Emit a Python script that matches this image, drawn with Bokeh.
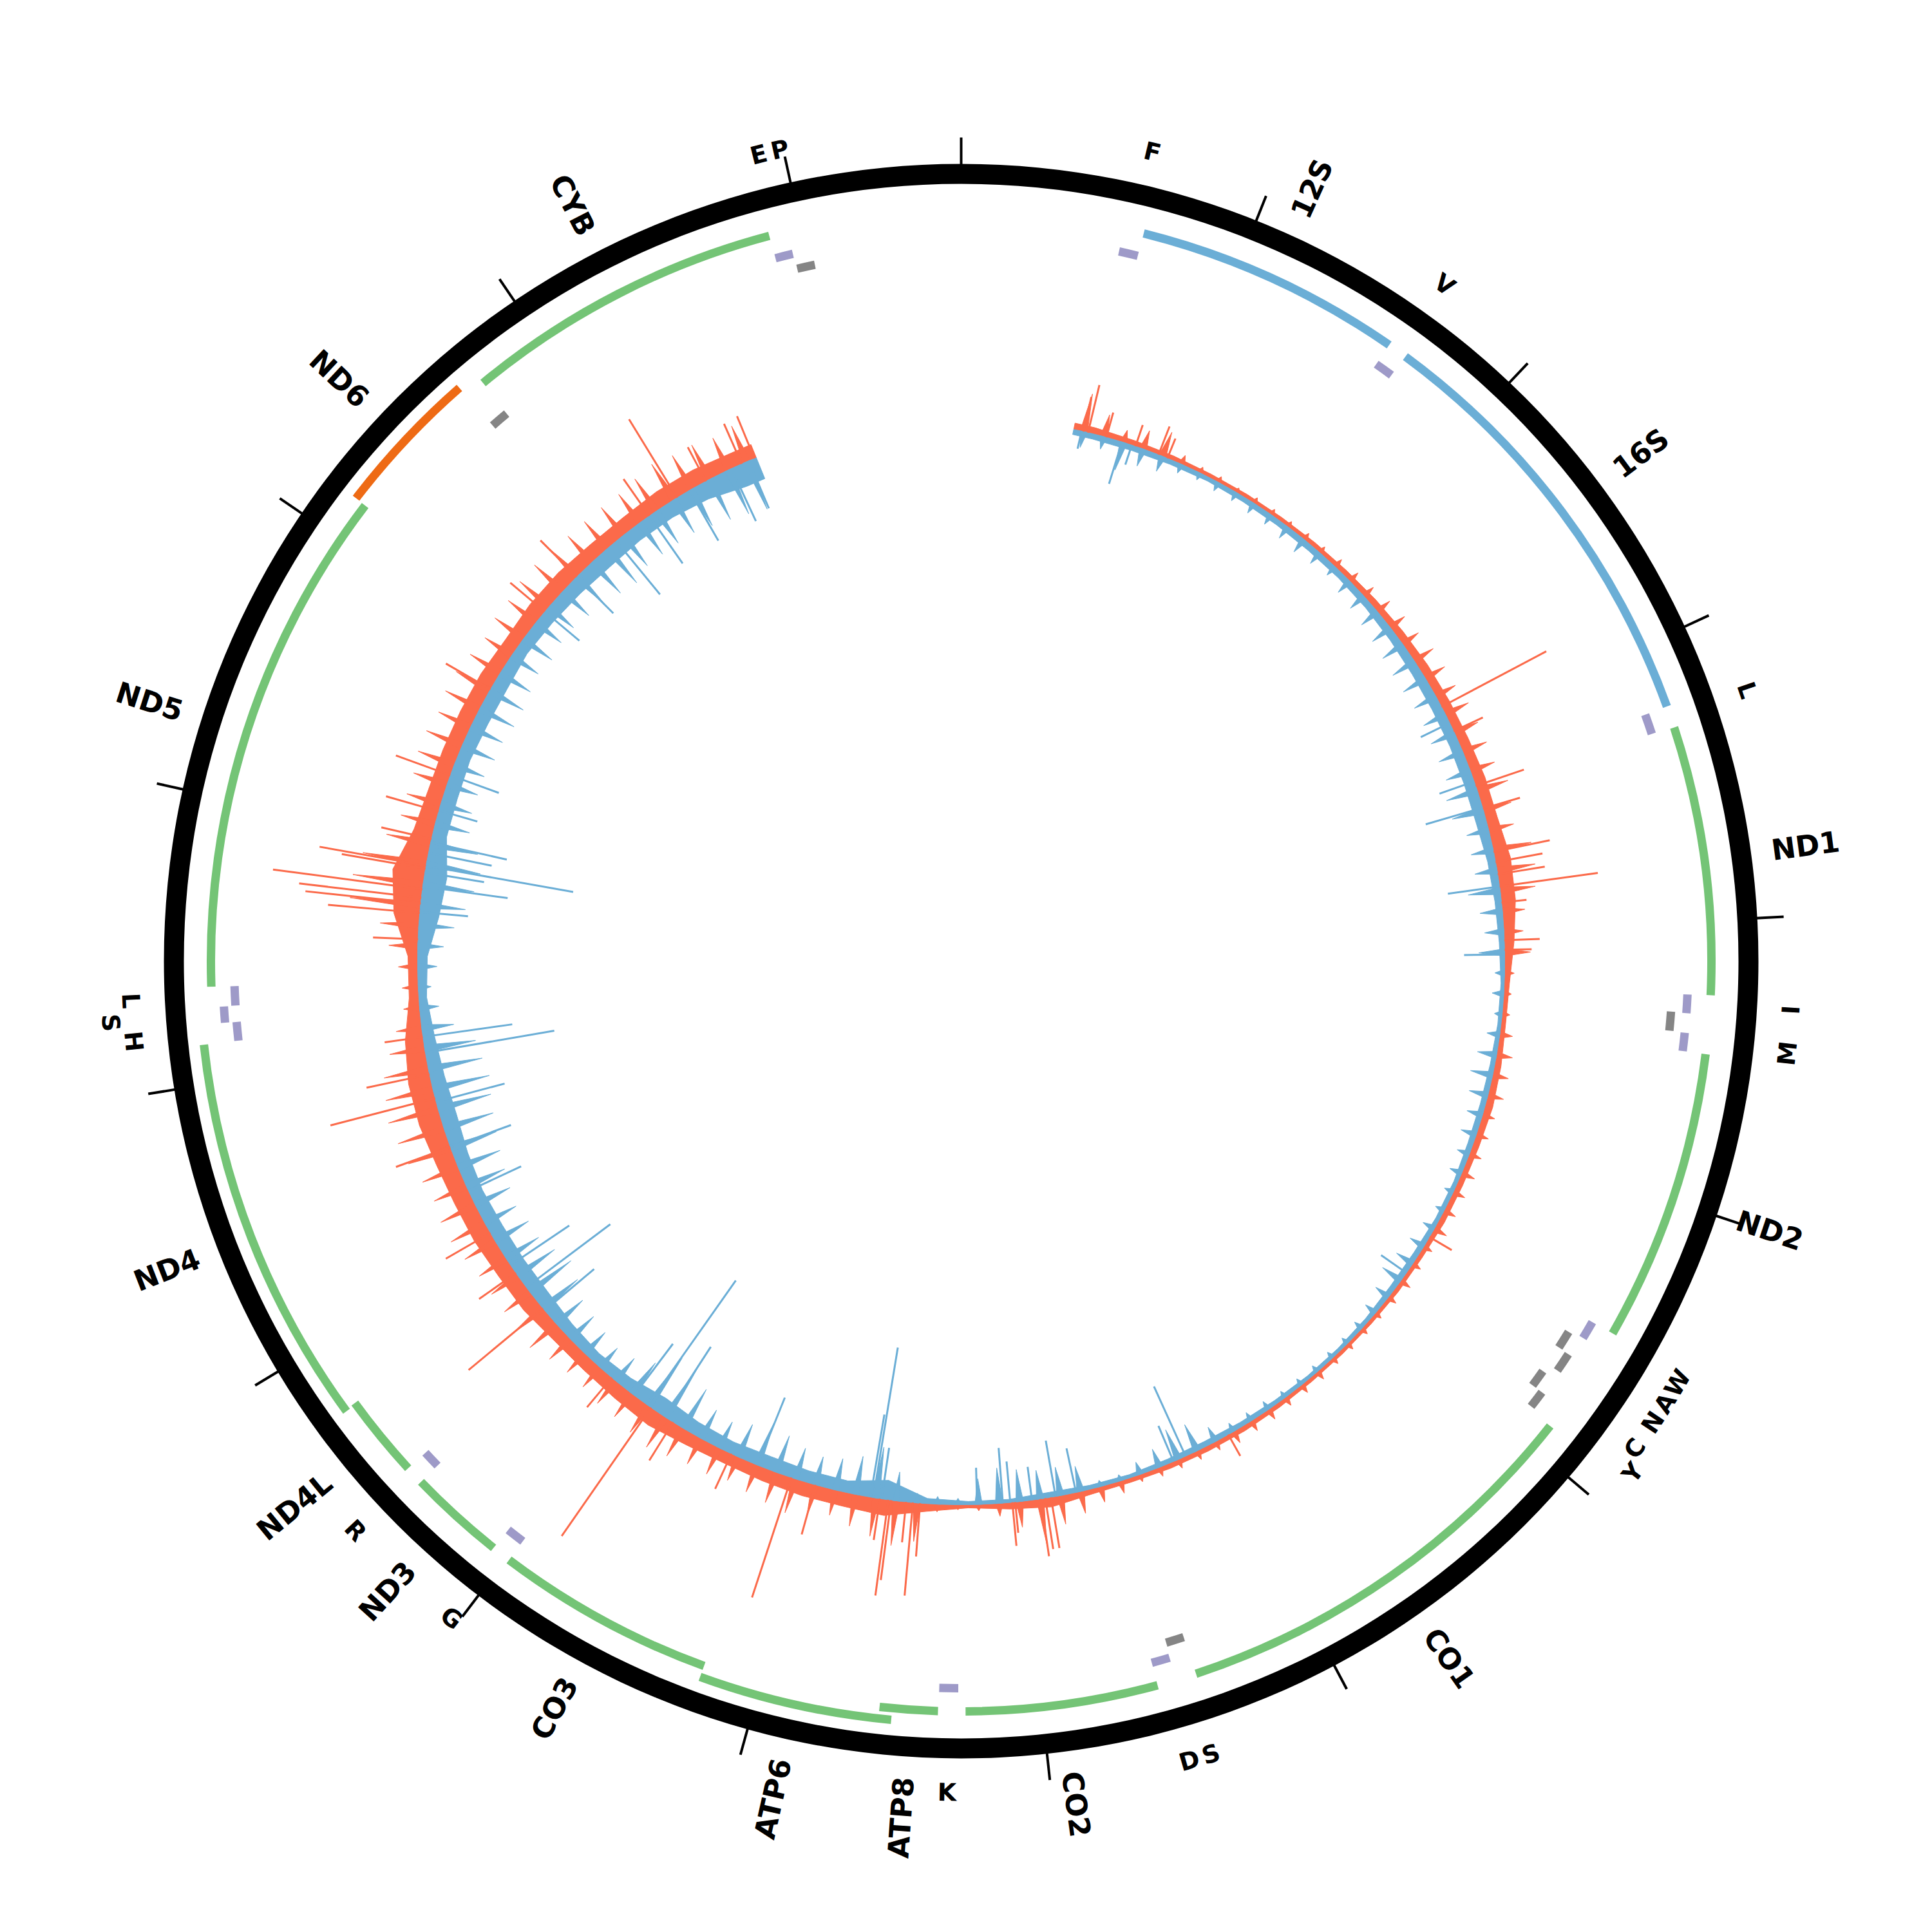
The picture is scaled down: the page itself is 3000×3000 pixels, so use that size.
import numpy as np
from bokeh.plotting import figure
from bokeh.embed import file_html
from bokeh.resources import INLINE
from bokeh.core.properties import value

GENOME_LEN = 16569
TICK_STEP = 1000

# ---------------- genes ----------------
gene_names  = ["F","12S","V","16S","L1","ND1","I","Q","M","ND2","W","A","N","C","Y","CO1","S1","D","CO2","K",
               "ATP8","ATP6","CO3","G","ND3","R","ND4L","ND4","H","S2","L2","ND5","ND6","E","CYB","T","P"]
gene_starts = [577,648,1602,1671,3230,3307,4263,4329,4402,4470,5512,5587,5657,5761,5826,5904,7446,7518,7586,8295,
               8366,8527,9207,9991,10059,10405,10470,10760,12138,12207,12266,12337,14149,14674,14747,15888,15956]
gene_ends   = [647,1601,1670,3229,3304,4262,4331,4400,4469,5511,5579,5655,5729,5826,5891,7445,7514,7585,8269,8364,
               8572,9207,9990,10058,10404,10469,10766,12137,12206,12265,12336,14148,14673,14742,15887,15953,16023]
gene_strand = ["+","+","+","+","+","+","+","-","+","+","+","-","-","-","-","+","-","+","+","+",
               "+","+","+","+","+","+","+","+","+","+","+","+","-","-","+","+","-"]
gene_kind   = ["tRNA","rRNA","tRNA","rRNA","tRNA","CDS","tRNA","tRNA","tRNA","CDS","tRNA","tRNA","tRNA","tRNA","tRNA","CDS","tRNA","tRNA","CDS","tRNA",
               "CDS","CDS","CDS","tRNA","CDS","tRNA","CDS","CDS","tRNA","tRNA","tRNA","CDS","CDS","tRNA","CDS","tRNA","tRNA"]

# ---------------- labels ----------------
label_text  = ["F","12S","V","16S","L","ND1","I","M","ND2","W","A","N","C","Y","CO1","S","D","CO2","K","ATP8",
               "ATP6","CO3","G","ND3","R","ND4L","ND4","H","S","L","ND5","ND6","CYB","E","P"]
label_gene  = ["F","12S","V","16S","L1","ND1","I","M","ND2","W","A","N","C","Y","CO1","S1","D","CO2","K","ATP8",
               "ATP6","CO3","G","ND3","R","ND4L","ND4","H","S2","L2","ND5","ND6","CYB","T","P"]
label_shift = [0,0,0,0,0,0,0,0,0,0,0,0,0,20,0,0,0,0,0,0,
               0,0,0,0,0,0,0,0,33,0,0,0,0,0,0]

# ---------------- coverage histogram ----------------
DATA_START = 550
DATA_END = 15550
CORE_W = 200      # typical (solid) depth per 200 bp
TIP_W = 100       # maximum depth per 100 bp

red_core = [10,8,7,6,6,6,7,8,10,12,14,15,16,18,18,24,22,15,8,7,
            10,12,10,9,9,7,7,6,6,6,7,8,8,8,7,8,15,10,5,12,
            25,22,22,20,18,20,25,22,20,20,25,25,28,28,30,35,35,28,15,15,
            40,50,30,25,25,25,25,22,25,25,22,22,25,25,22]
blue_core = [8,8,7,6,7,8,9,9,10,12,14,15,15,16,16,12,10,8,5,5,
             7,8,8,6,6,8,8,6,5,5,6,7,8,7,5,6,8,5,5,8,
             30,18,18,20,18,20,25,18,15,18,22,22,22,20,22,25,22,18,12,15,
             30,35,22,22,20,22,22,18,20,22,24,22,22,26,35]

red_tip = [60,35,20,30,40,15,10,10,8,10,10,10,12,12,15,18,20,25,28,30,
           35,35,35,40,40,40,40,50,45,40,60,60,55,35,30,40,15,12,12,20,
           25,25,25,20,20,20,22,20,20,22,15,15,18,15,12,12,12,12,15,15,
           15,18,18,20,15,15,15,15,12,20,25,35,45,70,40,20,10,8,12,60,
           70,60,50,40,50,55,50,45,40,45,45,50,55,50,45,45,40,40,45,55,
           60,50,50,50,55,60,60,55,60,70,75,80,75,70,55,40,25,25,30,45,
           60,110,110,100,70,55,55,55,60,60,55,60,60,55,50,55,55,60,60,60,
           55,55,55,55,60,65,60,60,55,60]
blue_tip = [25,20,45,28,25,15,12,15,15,18,18,22,25,22,18,25,28,32,35,38,
            40,40,38,38,40,40,40,50,50,35,35,35,50,35,30,40,15,18,12,20,
            30,35,30,25,25,20,20,15,15,20,25,30,35,25,20,15,12,12,12,12,
            12,15,15,15,25,45,50,30,20,10,10,40,45,45,50,55,40,10,12,15,
            45,80,60,50,45,50,60,70,55,45,50,70,90,90,60,45,40,45,50,55,
            70,80,70,60,60,55,60,65,70,75,80,85,90,85,80,50,30,20,30,40,
            55,70,80,85,75,55,50,50,50,55,55,60,60,55,50,55,50,50,55,60,
            65,70,60,60,60,60,65,70,75,80]

red_spike_pos = [598,621,713,861,980,1026,2858,2990,3277,3392,3608,3659,3719,3779,3857,4041,4087,
                 5546,6930,7847,7875,7898,8022,8036,8484,8519,8552,8625,8639,8680,9000,9122,9435,9757,9886,
                 10125,10600,10815,11046,11506,11755,11874,12058,12533,12661,12707,12735,12776,12878,12892,
                 13025,13163,13347,13808,14268,14498,14958,15119,15280,15473,15540]
red_spike_h   = [55,76,40,35,47,33,184,50,79,60,89,74,74,154,39,55,42,
                 40,38,80,80,90,48,68,83,145,63,125,150,65,80,196,60,70,243,
                 60,150,70,80,90,168,100,60,70,143,180,191,234,132,168,
                 80,85,90,80,70,80,70,143,60,68,71]

blue_spike_pos = [589,792,842,2946,3254,3387,3779,4110,5753,7162,7226,7723,7824,7940,8046,8082,8207,8672,8713,
                  8727,9297,9803,9905,9987,10586,10730,10862,11276,11506,11736,11980,12058,12666,12791,12860,
                  12892,12956,13007,13168,13347,14268,14498,14756,14958,15188,15418,15510]
blue_spike_h   = [28,68,32,50,57,92,81,63,48,119,60,70,88,52,64,86,57,80,236,
                  130,113,130,237,100,100,163,110,90,100,110,203,140,75,133,93,
                  232,100,121,62,80,70,80,107,90,90,90,80]

# ---------------- geometry / style ----------------
R_RING_IN, R_RING_OUT = 1207, 1238
R_TICK_OUT = 1279
R_GENE = 1165
R_TRNA_PLUS = 1129
R_TRNA_MINUS = 1105
TRACK_W = 13
STAGGER = 18
R_BASE = 844
R_LABEL = 1270
R_TLABEL = 1291
TOOTH_BP = 36

C_CDS, C_CDS_MINUS, C_RRNA = "#74c476", "#ee6a14", "#6baed6"
C_TRNA_PLUS, C_TRNA_MINUS = "#9e9ac8", "#858585"
C_RED, C_BLUE = "#fb6a4a", "#6baed6"


def theta(bp):
    return np.asarray(bp, dtype=float) / GENOME_LEN * 2 * np.pi


def math_ang(bp):
    return np.pi / 2 - theta(bp)


def xy(bp, r):
    a = math_ang(bp)
    return np.asarray(r) * np.cos(a), np.asarray(r) * np.sin(a)


p = figure(width=2980, height=2980, x_range=(-1492, 1488), y_range=(-1488, 1492),
           output_backend="svg", toolbar_location=None, min_border=0)
p.axis.visible = False
p.grid.visible = False
p.outline_line_color = None
p.background_fill_color = "white"

base_pos = np.linspace(DATA_END, DATA_START, 500)
core_centers = DATA_START + CORE_W * (np.arange(len(red_core)) + 0.5)
env_pos = np.concatenate([[DATA_START], core_centers, [DATA_END]])
tip_centers = DATA_START + TIP_W * (np.arange(len(red_tip)) + 0.5)

for core, tip, sign, col in ((red_core, red_tip, 1, C_RED), (blue_core, blue_tip, -1, C_BLUE)):
    # solid core envelope
    h = np.concatenate([[core[0]], core, [core[-1]]]).astype(float)
    ox, oy = xy(env_pos, R_BASE + sign * h)
    bx, by = xy(base_pos, np.full(len(base_pos), R_BASE))
    p.patch(np.concatenate([ox, bx]), np.concatenate([oy, by]), fill_color=col, line_color=col, line_width=1)
    # per-bin maximum depth as thin spikes
    xs, ys = [], []
    for c, t in zip(tip_centers, tip):
        lx, ly = xy([c - TOOTH_BP / 2, c, c + TOOTH_BP / 2], [R_BASE, R_BASE + sign * t, R_BASE])
        xs.append(list(lx))
        ys.append(list(ly))
    p.patches(xs, ys, fill_color=col, line_color=col, line_width=1)

# ---- coverage: isolated long spikes ----
for pos, hh, sign, col in ((red_spike_pos, red_spike_h, 1, C_RED), (blue_spike_pos, blue_spike_h, -1, C_BLUE)):
    pos = np.asarray(pos, float)
    hh = np.asarray(hh, float)
    x0, y0 = xy(pos, np.full(len(pos), R_BASE))
    x1, y1 = xy(pos, R_BASE + sign * hh)
    p.segment(x0, y0, x1, y1, line_color=col, line_width=3)

# ---- outer ring and ticks ----
p.annulus(x=0, y=0, inner_radius=R_RING_IN, outer_radius=R_RING_OUT, fill_color="black", line_color=None)
tick_pos = np.arange(0, GENOME_LEN, TICK_STEP)
tx0, ty0 = xy(tick_pos, np.full(len(tick_pos), R_RING_OUT - 2))
tx1, ty1 = xy(tick_pos, np.full(len(tick_pos), R_TICK_OUT))
p.segment(tx0, ty0, tx1, ty1, line_color="black", line_width=4)

# ---- gene tracks (greedy stagger per track) ----
def track_of(i):
    if gene_kind[i] in ("CDS", "rRNA"):
        return "gene"
    return "tplus" if gene_strand[i] == "+" else "tminus"

track_base = {"gene": R_GENE, "tplus": R_TRNA_PLUS, "tminus": R_TRNA_MINUS}
levels = [0] * len(gene_names)
last_end = {}
for i in sorted(range(len(gene_names)), key=lambda k: gene_starts[k]):
    t = track_of(i)
    ends = last_end.setdefault(t, [])
    lv = 0
    while lv < len(ends) and gene_starts[i] <= ends[lv] + 2:
        lv += 1
    if lv == len(ends):
        ends.append(gene_ends[i])
    else:
        ends[lv] = gene_ends[i]
    levels[i] = lv

for i, name in enumerate(gene_names):
    t = track_of(i)
    if gene_kind[i] == "rRNA":
        col = C_RRNA
    elif gene_kind[i] == "CDS":
        col = C_CDS if gene_strand[i] == "+" else C_CDS_MINUS
    else:
        col = C_TRNA_PLUS if gene_strand[i] == "+" else C_TRNA_MINUS
    rc = track_base[t] + STAGGER * levels[i]
    p.annular_wedge(x=0, y=0, inner_radius=rc - TRACK_W / 2, outer_radius=rc + TRACK_W / 2,
                    start_angle=float(math_ang(gene_ends[i])), end_angle=float(math_ang(gene_starts[i])),
                    fill_color=col, line_color=None)

# ---- labels ----
idx = {n: i for i, n in enumerate(gene_names)}
groups = {"rad_right": dict(x=[], y=[], t=[], a=[]), "rad_left": dict(x=[], y=[], t=[], a=[]),
          "tan": dict(x=[], y=[], t=[], a=[])}
for txt, g, sh in zip(label_text, label_gene, label_shift):
    i = idx[g]
    mid = (gene_starts[i] + gene_ends[i]) / 2.0
    th = float(np.degrees(theta(mid)))
    if gene_kind[i] in ("CDS", "rRNA"):
        x, y = xy(mid, R_LABEL)
        if th < 180:
            grp, a = "rad_right", 90 - th
        else:
            grp, a = "rad_left", 270 - th
    else:
        x, y = xy(mid, R_TLABEL + sh)
        grp = "tan"
        a = -th if np.cos(np.radians(th)) > 0 else 180 - th
    groups[grp]["x"].append(float(x))
    groups[grp]["y"].append(float(y))
    groups[grp]["t"].append(txt)
    groups[grp]["a"].append(np.radians(a))

for grp, align, size in (("rad_right", "left", "45px"), ("rad_left", "right", "45px"), ("tan", "center", "38px")):
    d = groups[grp]
    p.text(x=d["x"], y=d["y"], text=d["t"], angle=d["a"], text_align=align, text_baseline="middle",
           text_font=value("DejaVu Sans"), text_font_size=size, text_font_style="bold", text_color="black")

open("out.html", "w").write(file_html(p, INLINE))
